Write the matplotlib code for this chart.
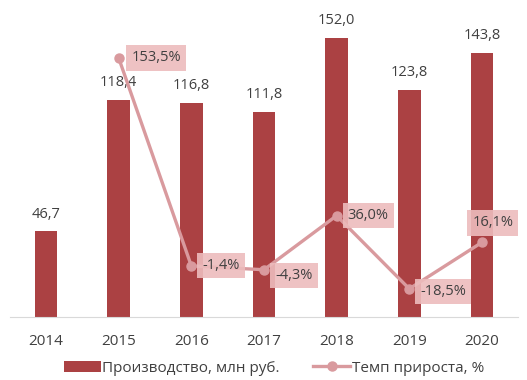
import matplotlib.pyplot as plt

years = ["2014", "2015", "2016", "2017", "2018", "2019", "2020"]
production = [46.7, 118.4, 116.8, 111.8, 152.0, 123.8, 143.8]
growth_years = ["2015", "2016", "2017", "2018", "2019", "2020"]
growth = [153.5, -1.4, -4.3, 36.0, -18.5, 16.1]

bar_color = "#ab4143"
line_color = "#d99a9e"
box_color = "#edbcbd"
text_color = "#404040"

plt.rcParams['font.family'] = ['Open Sans', 'DejaVu Sans']

fig = plt.figure(figsize=(5.27, 3.8), dpi=100)
ax = fig.add_axes([0.0184, 0.1658, 0.965, 0.8213])
x = list(range(len(years)))
bars = ax.bar(x, production, width=0.31, color=bar_color, label="Производство, млн руб.", zorder=2)
ax.set_ylim(0, 170)
ax.set_xlim(-0.5, len(years) - 0.5)
for xi, v in zip(x, production):
    ax.annotate(f"{v:.1f}".replace(".", ","), (xi, v), xytext=(0, 7), textcoords="offset points",
                ha="center", va="bottom", fontsize=10.5, color=text_color)

ax.set_yticks([])
for s in ["top", "left", "right"]:
    ax.spines[s].set_visible(False)
ax.spines["bottom"].set_color("#d9d9d9")
ax.set_xticks(x)
ax.set_xticklabels(years, fontsize=11, color=text_color)
ax.tick_params(axis="x", length=0, pad=12)

ax2 = ax.twinx()
gx = [years.index(y) for y in growth_years]
ax2.plot(gx, growth, color=line_color, lw=2.4, marker="o", ms=6.5, label="Темп прироста, %", zorder=3)
ax2.set_ylim(-39.5, 193)
ax2.set_yticks([])
for s in ax2.spines.values():
    s.set_visible(False)

offsets = [(9, 0), (8, 0), (8, -4), (8, 0), (8, -2), (-7, 14)]
for xi, v, off in zip(gx, growth, offsets):
    ax2.annotate(f"{v:.1f}%".replace(".", ","), (xi, v), xytext=off, textcoords="offset points",
                 ha="left", va="center", fontsize=10.5, color=text_color,
                 bbox=dict(boxstyle="square,pad=0.35", fc=box_color, ec="none", alpha=0.9), zorder=4)

h1, l1 = ax.get_legend_handles_labels()
h2, l2 = ax2.get_legend_handles_labels()
fig.legend(h1 + h2, l1 + l2, loc="lower center", bbox_to_anchor=(0.52, -0.025), ncol=2, frameon=False,
           fontsize=11, handlelength=2.4, handletextpad=0.1, columnspacing=2.2, labelcolor=text_color)

fig.savefig("out.png", dpi=100)
